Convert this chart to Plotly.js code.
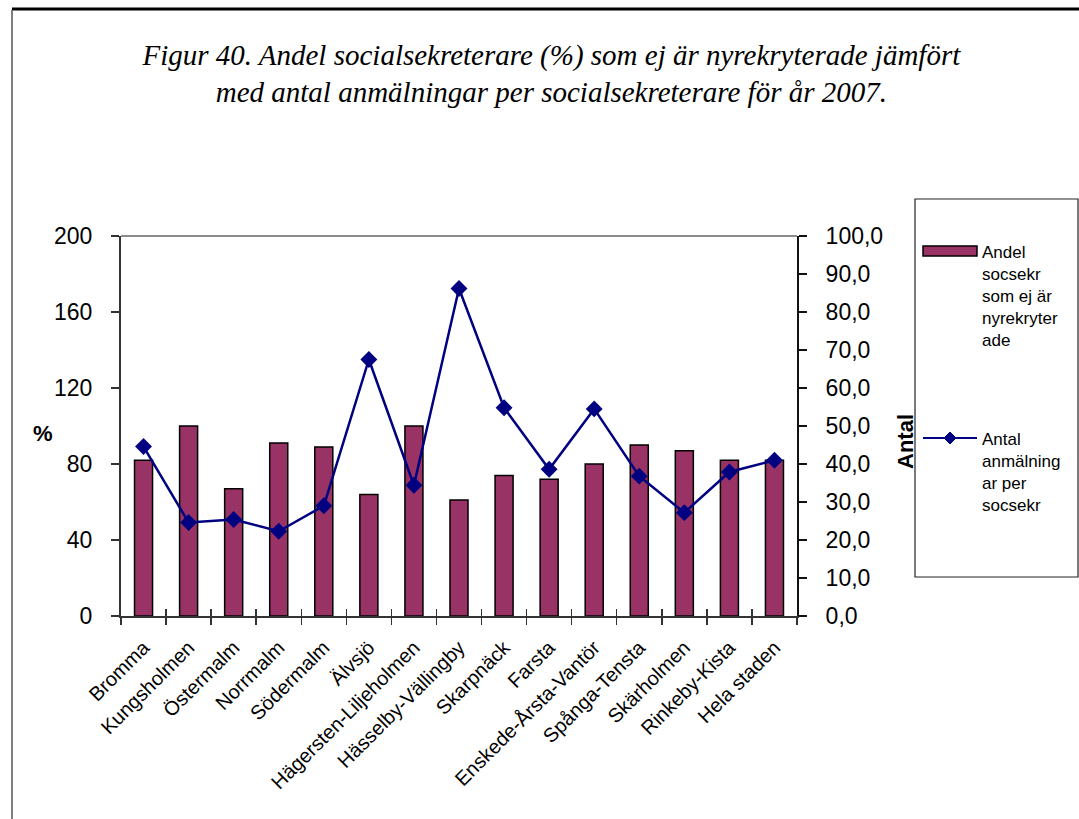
<!DOCTYPE html>
<html>
<head>
<meta charset="utf-8">
<script src="https://cdn.plot.ly/plotly-3.0.1.min.js"></script>
<style>html,body{margin:0;padding:0;background:#fff;}#chart{width:1079px;height:819px;}</style>
</head>
<body>
<div id="chart"></div>
<script>
const categories = ["Bromma","Kungsholmen","Östermalm","Norrmalm","Södermalm","Älvsjö","Hägersten-Liljeholmen","Hässelby-Vällingby","Skarpnäck","Farsta","Enskede-Årsta-Vantör","Spånga-Tensta","Skärholmen","Rinkeby-Kista","Hela staden"];
const andelEjNyrekryterade = [82, 100, 67, 91, 89, 64, 100, 61, 74, 72, 80, 90, 87, 82, 82];
const antalAnmalningar = [44.6, 24.6, 25.4, 22.3, 29.0, 67.5, 34.4, 86.2, 54.8, 38.6, 54.5, 36.8, 27.2, 37.9, 41.0];
const leftTicks = [0, 40, 80, 120, 160, 200];
const rightTicks = [0,10,20,30,40,50,60,70,80,90,100];
const rightTickText = rightTicks.map(v => v.toFixed(1).replace('.', ','));
const barName = "Andel socsekr som ej är nyrekryterade";
const lineName = "Antal anmälningar per socsekr";

// pixel -> paper helpers (plot area: x 121..797, y 236..616)
const L = 121, R = 797, T = 236, B = 616;
const px = v => (v - L) / (R - L);
const py = v => (B - v) / (B - T);

const bar = {
  type: 'bar', name: barName, x: categories, y: andelEjNyrekryterade,
  xaxis: 'x', yaxis: 'y',
  marker: {color: '#993366', line: {color: '#000000', width: 1.5}},
  showlegend: false, hoverinfo: 'x+y'
};
const line = {
  type: 'scatter', mode: 'lines+markers', name: lineName, x: categories, y: antalAnmalningar,
  xaxis: 'x2', yaxis: 'y2',
  line: {color: '#000080', width: 2.5},
  marker: {symbol: 'diamond', size: 13, color: '#000080'},
  showlegend: false, hoverinfo: 'x+y'
};

const axisFont = {family: 'Liberation Sans, Arial, sans-serif', size: 23, color: '#000'};

const layout = {
  width: 1079, height: 819,
  margin: {l: L, r: 1079 - R, t: T, b: 819 - B, pad: 0},
  paper_bgcolor: '#ffffff', plot_bgcolor: '#ffffff',
  showlegend: false,
  bargap: 0.6,
  title: {
    text: 'Figur 40. Andel socialsekreterare (%) som ej är nyrekryterade jämfört<br>med antal anmälningar per socialsekreterare för år 2007.',
    font: {family: 'Liberation Serif, Times New Roman, serif', size: 29, color: '#000', style: 'italic'},
    x: 0.511, xanchor: 'center', y: 0.921, yanchor: 'top'
  },
  xaxis: {
    type: 'category', categoryarray: categories, categoryorder: 'array',
    range: [-0.5, 14.5],
    showline: true, linecolor: '#333', linewidth: 2,
    ticks: 'outside', tickson: 'boundaries', ticklen: 7, tickcolor: '#333', tickwidth: 1.5,
    tickangle: -45, ticklabelstandoff: 10,
    tickfont: {family: 'Liberation Sans, Arial, sans-serif', size: 20, color: '#000'},
    showgrid: false, zeroline: false, fixedrange: true
  },
  xaxis2: {
    type: 'category', categoryarray: categories, categoryorder: 'array',
    range: [-0.5, 14.5], overlaying: 'x', anchor: 'y',
    showline: false, ticks: 'inside', tickson: 'boundaries', ticklen: 7, tickcolor: '#333', tickwidth: 1.5,
    showticklabels: false, showgrid: false, zeroline: false, fixedrange: true
  },
  yaxis: {
    range: [0, 200], tickvals: leftTicks, ticktext: leftTicks.map(String),
    showline: true, linecolor: '#333', linewidth: 2,
    ticks: 'outside', ticklen: 8, tickcolor: '#333', tickwidth: 1.5,
    ticklabelstandoff: 14,
    tickfont: axisFont, showgrid: false, zeroline: false, fixedrange: true
  },
  yaxis2: {
    range: [0, 100], tickvals: rightTicks, ticktext: rightTickText,
    overlaying: 'y', side: 'right', anchor: 'x',
    showline: true, linecolor: '#111', linewidth: 2,
    ticks: 'outside', ticklen: 8, tickcolor: '#111', tickwidth: 1.5,
    ticklabelstandoff: 14,
    tickfont: axisFont, showgrid: false, zeroline: false, fixedrange: true
  },
  yaxis3: {
    range: [0, 200], tickvals: leftTicks, overlaying: 'y', side: 'left', anchor: 'x',
    ticks: 'inside', ticklen: 8, tickcolor: '#333', tickwidth: 1.5,
    showticklabels: false, showline: false, showgrid: false, zeroline: false, fixedrange: true
  },
  yaxis4: {
    range: [0, 100], tickvals: rightTicks, overlaying: 'y', side: 'right', anchor: 'x',
    ticks: 'inside', ticklen: 8, tickcolor: '#111', tickwidth: 1.5,
    showticklabels: false, showline: false, showgrid: false, zeroline: false, fixedrange: true
  },
  shapes: [
    {type: 'line', xref: 'paper', yref: 'paper', x0: 0, x1: 1, y0: 1, y1: 1, line: {color: '#8c8c8c', width: 2}},
    {type: 'line', xref: 'paper', yref: 'paper', x0: px(12), x1: px(1079), y0: py(9), y1: py(9), line: {color: '#000', width: 3}},
    {type: 'line', xref: 'paper', yref: 'paper', x0: px(12), x1: px(12), y0: py(10), y1: py(819), line: {color: '#555', width: 1.5}},
    {type: 'rect', xref: 'paper', yref: 'paper', x0: px(915), x1: px(1078), y0: py(577), y1: py(199), line: {color: '#222', width: 1.2}, fillcolor: 'rgba(0,0,0,0)'},
    {type: 'rect', xref: 'paper', yref: 'paper', x0: px(923), x1: px(977), y0: py(256), y1: py(246), line: {color: '#000', width: 1.5}, fillcolor: '#993366'},
    {type: 'line', xref: 'paper', yref: 'paper', x0: px(923), x1: px(977), y0: py(438), y1: py(438), line: {color: '#000080', width: 2}},
    {type: 'path', xref: 'paper', yref: 'paper',
     path: 'M ' + px(950) + ' ' + py(432) + ' L ' + px(956) + ' ' + py(438) + ' L ' + px(950) + ' ' + py(444) + ' L ' + px(944) + ' ' + py(438) + ' Z',
     line: {color: '#000080', width: 1}, fillcolor: '#000080'}
  ],
  annotations: [
    {text: '<b>%</b>', xref: 'paper', yref: 'paper', x: px(43), y: py(433), xanchor: 'center', yanchor: 'middle', showarrow: false,
     font: {family: 'Liberation Sans, Arial, sans-serif', size: 22, color: '#000'}},
    {text: '<b>Antal</b>', xref: 'paper', yref: 'paper', x: px(905), y: py(442), xanchor: 'center', yanchor: 'middle', showarrow: false, textangle: -90,
     font: {family: 'Liberation Sans, Arial, sans-serif', size: 22, color: '#000'}},
    {text: 'Andel<br>socsekr<br>som ej är<br>nyrekryter<br>ade', xref: 'paper', yref: 'paper', x: px(980), y: py(241), xanchor: 'left', yanchor: 'top', align: 'left', showarrow: false,
     font: {family: 'Liberation Sans, Arial, sans-serif', size: 17, color: '#000'}},
    {text: 'Antal<br>anmälning<br>ar per<br>socsekr', xref: 'paper', yref: 'paper', x: px(980), y: py(428), xanchor: 'left', yanchor: 'top', align: 'left', showarrow: false,
     font: {family: 'Liberation Sans, Arial, sans-serif', size: 17, color: '#000'}}
  ]
};

Plotly.newPlot('chart', [bar, line], layout, {staticPlot: true, displayModeBar: false});
</script>
</body>
</html>
